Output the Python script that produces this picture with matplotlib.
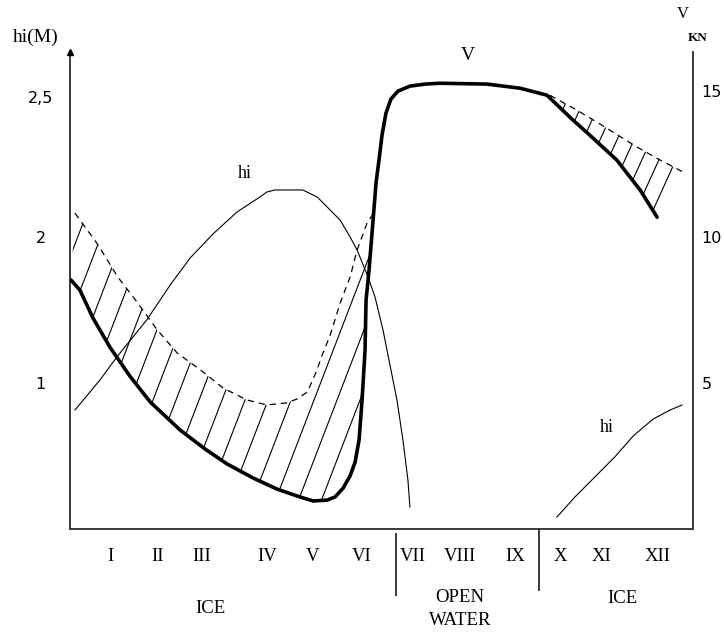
import numpy as np
import matplotlib
matplotlib.use("Agg")
import matplotlib.pyplot as plt
from matplotlib.patches import Polygon
from matplotlib.transforms import blended_transform_factory

# ---------------- data (x in "month axis" units, 0 = left axis) ----------------
months = ["I", "II", "III", "IV", "V", "VI", "VII", "VIII", "IX", "X", "XI", "XII"]
month_pos = [0.82, 1.75, 2.65, 3.95, 4.86, 5.86, 6.88, 7.82, 8.93, 9.83, 10.67, 11.78]
season_bounds = [6.54, 9.41]
season_labels = ["ICE", "OPEN\nWATER", "ICE"]
season_pos = [2.81, 7.82, 11.08]

# speed V (knots) - thick curve
v_x = [0.02, 0.20, 0.46, 0.80, 1.20, 1.61, 2.21, 2.71, 3.15, 3.67, 4.15, 4.61, 4.88,
       5.16, 5.32, 5.48, 5.62, 5.72, 5.80, 5.86, 5.92, 5.94, 6.00, 6.06, 6.14, 6.20,
       6.26, 6.34, 6.44, 6.58, 6.82, 7.12, 7.42, 8.37, 9.03, 9.57, 10.09, 10.43,
       10.97, 11.44, 11.78]
v_k = [8.53, 8.18, 7.23, 6.23, 5.24, 4.35, 3.39, 2.74, 2.23, 1.75, 1.37, 1.10, 0.96,
       0.99, 1.10, 1.40, 1.82, 2.29, 3.05, 4.42, 6.13, 7.84, 8.87, 10.14, 11.85, 12.64,
       13.49, 14.25, 14.73, 15.00, 15.17, 15.24, 15.27, 15.24, 15.10, 14.86, 14.01,
       13.49, 12.64, 11.61, 10.68]

# dashed upper speed curve, first ice period
d1_x = [0.10, 0.54, 0.96, 1.36, 1.75, 2.15, 2.67, 3.07, 3.55, 3.95, 4.35, 4.55, 4.76,
        4.94, 5.06, 5.22, 5.42, 5.62, 5.76, 5.96, 6.09]
d1_k = [10.82, 9.79, 8.63, 7.74, 6.82, 6.03, 5.38, 4.83, 4.42, 4.25, 4.32, 4.45, 4.69,
        5.38, 5.96, 6.64, 7.74, 8.63, 9.55, 10.48, 10.82]

# dashed upper speed curve, second ice period
d2_x = [9.63, 10.17, 10.77, 11.38, 11.84, 12.30]
d2_k = [14.86, 14.35, 13.73, 13.08, 12.64, 12.23]

# ice thickness hi (m)
h1_x = [0.10, 0.60, 0.94, 1.54, 2.01, 2.41, 2.87, 3.35, 3.81, 3.95, 4.11, 4.67, 4.96,
        5.42, 5.62, 5.76, 5.98, 6.12, 6.28, 6.36, 6.56, 6.68, 6.78, 6.82]
h1_m = [0.815, 1.02, 1.178, 1.432, 1.671, 1.856, 2.021, 2.171, 2.274, 2.308, 2.322,
        2.322, 2.274, 2.116, 2.0, 1.911, 1.726, 1.589, 1.363, 1.226, 0.884, 0.610,
        0.336, 0.151]
h2_x = [9.77, 10.13, 10.53, 10.93, 11.30, 11.70, 12.04, 12.28]
h2_m = [0.082, 0.219, 0.356, 0.493, 0.637, 0.753, 0.815, 0.849]

hi_ticks = [1, 2, 2.96]
hi_ticklabels = ["1", "2", "2,5"]
v_ticks = [5, 10, 15]
v_ticklabels = ["5", "10", "15"]

# ---------------- figure ----------------
W, H = 724, 633
fig = plt.figure(figsize=(W / 100, H / 100), dpi=100)
L, R, B, T = 70, 693, 529, 52
ax = fig.add_axes([L / W, 1 - B / H, (R - L) / W, (B - T) / H])
ax2 = ax.twinx()

XMAX, HMAX, KMAX = 12.5, 3.267, 16.34
ax.set_xlim(0, XMAX)
ax.set_ylim(0, HMAX)
ax2.set_ylim(0, KMAX)

serif = "Liberation Serif"
sans = "DejaVu Sans"
spine_col = "#3a3a3a"

for s in ["top", "right"]:
    ax.spines[s].set_visible(False)
for s in ["top", "left", "bottom"]:
    ax2.spines[s].set_visible(False)
for sp in [ax.spines["left"], ax.spines["bottom"], ax2.spines["right"]]:
    sp.set_linewidth(1.4)
    sp.set_color(spine_col)

# arrow on left axis
ax.plot([0], [1.0], marker="^", markersize=5, color="black", transform=ax.transAxes,
        clip_on=False, zorder=5)

# ticks
ax.set_xticks(month_pos, months, fontfamily=serif, fontsize=13.5)
ax.tick_params(axis="x", length=0, pad=14)
ax.set_yticks(hi_ticks, hi_ticklabels, fontfamily=sans, fontsize=11.5)
ax.tick_params(axis="y", length=0, pad=21)
for lab in ax.get_yticklabels():
    lab.set_horizontalalignment("center")
ax2.set_yticks(v_ticks, v_ticklabels, fontfamily=sans, fontsize=11.5)
ax2.tick_params(axis="y", length=0, pad=6)

# ---------------- hatching ----------------
px_x = (R - L) / XMAX
px_k = (B - T) / KMAX


def hatch(xt, yt, xb, yb, slope_px, spacing_px, anchor):
    verts = list(zip(xt, yt)) + list(zip(xb[::-1], yb[::-1]))
    poly = Polygon(verts, closed=True, transform=ax2.transData, facecolor="none",
                   edgecolor="none")
    ax2.add_patch(poly)
    s = slope_px * px_x / px_k
    dx = spacing_px / px_x
    c0 = anchor[0] - anchor[1] / s
    span = KMAX / s
    n_lo = int(np.floor((min(xt + xb) - span - c0) / dx)) - 1
    n_hi = int(np.ceil((max(xt + xb) - c0) / dx)) + 1
    for n in range(n_lo, n_hi + 1):
        c = c0 + n * dx
        ln, = ax2.plot([c, c + span], [0, KMAX], color="black", lw=0.8, zorder=2)
        ln.set_clip_path(poly)


sel1 = [i for i, x in enumerate(v_x) if x <= 6.08]
hatch(d1_x, d1_k, [v_x[i] for i in sel1] + [6.10], [v_k[i] for i in sel1] + [10.82],
      2.6, 23, (4.61, 1.10))
sel2 = [i for i, x in enumerate(v_x) if x >= 9.6]
hatch(d2_x, d2_k, [9.63] + [v_x[i] for i in sel2], [14.86] + [v_k[i] for i in sel2],
      2.2, 17, (11.54, 11.61))

# ---------------- curves ----------------
ax2.plot(v_x, v_k, color="black", lw=2.6, solid_capstyle="round",
         solid_joinstyle="round", zorder=4)
ax2.plot(d1_x, d1_k, color="black", lw=0.9, ls=(0, (5, 4)), zorder=3)
ax2.plot(d2_x, d2_k, color="black", lw=0.9, ls=(0, (5, 4)), zorder=3)
ax.plot(h1_x, h1_m, color="black", lw=0.8, zorder=3)
ax.plot(h2_x, h2_m, color="black", lw=0.8, zorder=3)

# ---------------- annotations ----------------
def ftxt(px, py, s, **kw):
    fig.text(px / W, 1 - py / H, s, ha="center", va="center", **kw)


ftxt(36, 37, "hi(M)", fontfamily=serif, fontsize=14)
ftxt(683, 14, "V", fontfamily=serif, fontsize=12)
ftxt(698, 38, "KN", fontfamily=serif, fontsize=9.5, fontweight="bold")
ftxt(468, 55, "V", fontfamily=serif, fontsize=14)
ftxt(245, 173, "hi", fontfamily=serif, fontsize=13)
ftxt(607, 428, "hi", fontfamily=serif, fontsize=13)

tb = blended_transform_factory(ax.transData, ax.transAxes)
ax.plot([season_bounds[0]] * 2, [-0.0105, -0.138], color=spine_col, lw=1.4,
        transform=tb, clip_on=False)
ax.plot([season_bounds[1]] * 2, [0.0, -0.128], color=spine_col, lw=1.4,
        transform=tb, clip_on=False)
season_y = [-0.166, -0.168, -0.145]
for x, y, s in zip(season_pos, season_y, season_labels):
    ax.text(x, y, s, transform=tb, ha="center", va="center", fontfamily=serif,
            fontsize=13.5, linespacing=1.45)

fig.savefig("out.png", dpi=100)
